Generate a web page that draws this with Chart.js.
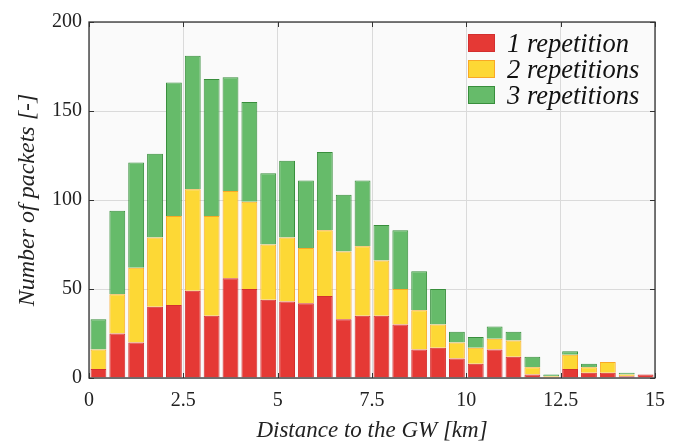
<!DOCTYPE html>
<html>
<head>
<meta charset="utf-8">
<title>Packets vs distance</title>
<script src="https://cdn.jsdelivr.net/npm/chart.js@4.4.0/dist/chart.umd.min.js"></script>
<style>
    html, body { margin: 0; padding: 0; background: #fff; }
    #wrap { position: relative; width: 682px; height: 441px; }
    #legend {
        position: absolute; left: 468px; top: 30px;
        font-family: 'Liberation Serif', 'Times New Roman', serif;
        font-style: italic; font-size: 26.5px; color: #111;
    }
    #legend .row { display: flex; align-items: center; height: 26px; }
    #legend .box { width: 27px; height: 18px; margin-right: 12px; box-sizing: border-box; border: 1px solid; }
</style>
</head>
<body>
<div id="wrap">
    <canvas id="packetsChart" width="682" height="441"></canvas>
    <div id="legend"></div>
</div>
<script>
// bin centres (km), 0.5 km wide bins
const binCentres = [0.25, 0.75, 1.25, 1.75, 2.25, 2.75, 3.25, 3.75, 4.25, 4.75,
                    5.25, 5.75, 6.25, 6.75, 7.25, 7.75, 8.25, 8.75, 9.25, 9.75,
                    10.25, 10.75, 11.25, 11.75, 12.25, 12.75, 13.25, 13.75, 14.25, 14.75];

// packets per bin, by number of repetitions (stacked)
const oneRep   = [5, 25, 20, 40, 41, 49, 35, 56, 50, 44, 43, 42, 46, 33, 35, 35, 30, 16, 17, 11, 8, 16, 12, 2, 0, 5, 3, 3, 1, 2];
const twoReps  = [11, 22, 42, 39, 50, 57, 56, 49, 49, 31, 36, 31, 37, 38, 39, 31, 20, 22, 13, 9, 9, 6, 9, 4, 1, 8, 3, 6, 1, 0];
const threeReps = [17, 47, 59, 47, 75, 75, 77, 64, 56, 40, 43, 38, 44, 32, 37, 20, 33, 22, 20, 6, 6, 7, 5, 6, 1, 2, 2, 0, 1, 0];

const seriesLabels = ['1 repetition', '2 repetitions', '3 repetitions'];
const xTickValues = [0, 2.5, 5, 7.5, 10, 12.5, 15];
const yTickValues = [0, 50, 100, 150, 200];

Chart.defaults.font.family = "'Liberation Serif', 'Times New Roman', serif";
Chart.defaults.color = '#222';

// plot background + full frame with inward ticks
const framePlugin = {
    id: 'frame',
    beforeDraw(chart) {
        const { ctx, chartArea: a } = chart;
        ctx.save();
        ctx.fillStyle = '#fafafa';
        ctx.fillRect(a.left, a.top, a.right - a.left, a.bottom - a.top);
        ctx.restore();
    },
    afterDraw(chart) {
        const { ctx, chartArea: a } = chart;
        const xs = chart.scales.x2, ys = chart.scales.y;
        const len = 5;
        ctx.save();
        ctx.strokeStyle = '#333';
        ctx.lineWidth = 1;
        ctx.beginPath();
        xTickValues.forEach(v => {
            const px = Math.round(xs.getPixelForValue(v)) + 0.5;
            ctx.moveTo(px, a.top); ctx.lineTo(px, a.top + len);
            ctx.moveTo(px, a.bottom); ctx.lineTo(px, a.bottom - len);
        });
        yTickValues.forEach(v => {
            const py = Math.round(ys.getPixelForValue(v)) + 0.5;
            ctx.moveTo(a.left, py); ctx.lineTo(a.left + len, py);
            ctx.moveTo(a.right, py); ctx.lineTo(a.right - len, py);
        });
        ctx.stroke();
        ctx.lineWidth = 1.3;
        ctx.strokeRect(a.left, a.top, a.right - a.left, a.bottom - a.top);
        ctx.restore();
    }
};

const fills = ['#e53935', '#fdd835', '#66bb6a'];
const edges = ['#d32f2f', '#f9a825', '#388e3c'];
const values = [oneRep, twoReps, threeReps];

const datasets = values.map((v, i) => ({
    label: seriesLabels[i],
    data: v,
    backgroundColor: fills[i],
    borderColor: edges[i],
    borderWidth: 1,
    barPercentage: 0.84,
    categoryPercentage: 1.0
}));

const ctx = document.getElementById('packetsChart').getContext('2d');
const chart = new Chart(ctx, {
    type: 'bar',
    data: { labels: binCentres, datasets: datasets },
    options: {
        responsive: false,
        animation: false,
        devicePixelRatio: 1,
        layout: { padding: { top: 22, right: 27, left: 0, bottom: 0 } },
        plugins: {
            legend: { display: false },
            tooltip: { enabled: false }
        },
        scales: {
            x: {
                stacked: true,
                display: false
            },
            x2: {
                type: 'linear',
                position: 'bottom',
                offset: false,
                min: 0,
                max: 15,
                afterBuildTicks: axis => { axis.ticks = xTickValues.map(v => ({ value: v })); },
                afterFit: axis => { axis.height = 63; },
                grid: { color: '#dadada', drawTicks: false, offset: false },
                border: { display: false },
                ticks: { font: { size: 20 }, padding: 11, maxRotation: 0 },
                title: {
                    display: true,
                    text: 'Distance to the GW [km]',
                    font: { size: 23, style: 'italic', lineHeight: 0.9 },
                    padding: { top: 0, bottom: 0 }
                }
            },
            y: {
                stacked: true,
                min: 0,
                max: 200,
                afterBuildTicks: axis => { axis.ticks = yTickValues.map(v => ({ value: v })); },
                afterFit: axis => { axis.width = 89; },
                grid: { color: '#dadada', drawTicks: false },
                border: { display: false },
                ticks: { font: { size: 20 }, padding: 7 },
                title: {
                    display: true,
                    text: 'Number of packets [-]',
                    font: { size: 24, style: 'italic' },
                    padding: { top: 13, bottom: 0 }
                }
            }
        }
    },
    plugins: [framePlugin]
});

// legend drawn as html, placed inside the plot area
const legendEl = document.getElementById('legend');
chart.data.datasets.forEach(ds => {
    const row = document.createElement('div');
    row.className = 'row';
    const box = document.createElement('span');
    box.className = 'box';
    box.style.background = ds.backgroundColor;
    box.style.borderColor = ds.borderColor;
    const txt = document.createElement('span');
    txt.textContent = ds.label;
    row.appendChild(box);
    row.appendChild(txt);
    legendEl.appendChild(row);
});
</script>
</body>
</html>
